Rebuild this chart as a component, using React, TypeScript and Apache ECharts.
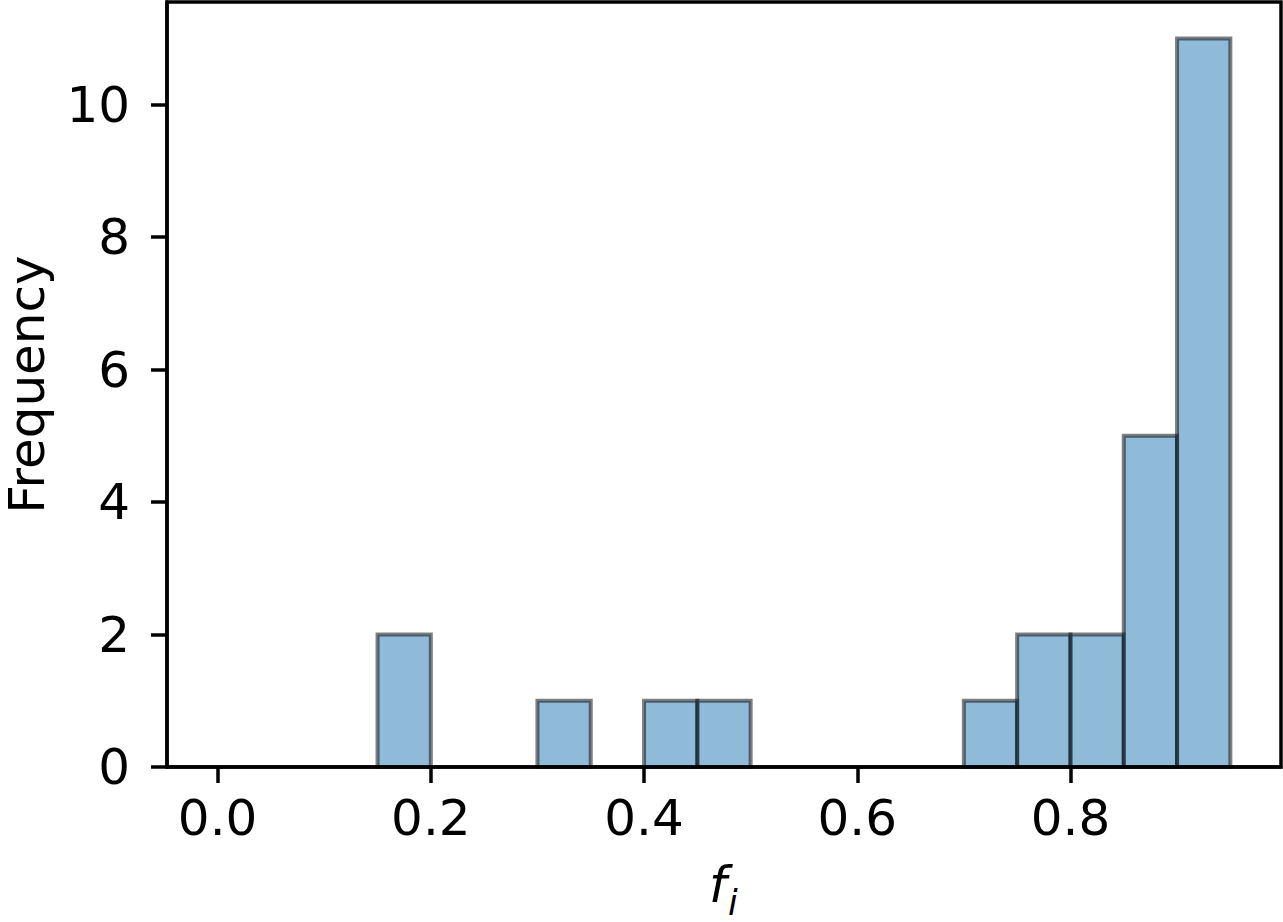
import React, { useEffect, useRef } from "react";
import * as echarts from "echarts";

const binStarts = [0.15, 0.3, 0.4, 0.45, 0.7, 0.75, 0.8, 0.85, 0.9];
const binWidth = 0.05;
const counts = [2, 1, 1, 1, 1, 2, 2, 5, 11];
const xTicks = [0.0, 0.2, 0.4, 0.6, 0.8];
const yTicks = [0, 2, 4, 6, 8, 10];
const xLabelMain = "f";
const xLabelSub = "i";
const yLabel = "Frequency";

const FONT = "DejaVu Sans";

export default function App() {
  const ref = useRef<HTMLDivElement>(null);
  useEffect(() => {
    if (!ref.current) return;
    const chart = echarts.init(ref.current, undefined, { renderer: "svg" });
    const data = binStarts.map((s, i) => [s, s + binWidth, counts[i]]);
    chart.setOption({
      animation: false,
      backgroundColor: "#ffffff",
      grid: {
        left: 167,
        right: 2,
        top: 2,
        bottom: 155,
        containLabel: false,
        outerBoundsMode: "none",
        show: true,
        borderColor: "#000",
        borderWidth: 3.5,
        backgroundColor: "transparent",
        z: 10,
      },
      xAxis: {
        type: "value",
        min: -0.0475,
        max: 0.9975,
        splitLine: { show: false },
        axisLine: { show: true, onZero: false, lineStyle: { color: "#000", width: 3.5 } },
        axisTick: {
          show: true,
          length: 16,
          customValues: xTicks,
          lineStyle: { color: "#000", width: 3.5 },
        },
        axisLabel: {
          customValues: xTicks,
          formatter: (v: number) => v.toFixed(1),
          fontFamily: FONT,
          fontSize: 50,
          color: "#000",
          margin: 26,
        },
      },
      yAxis: {
        type: "value",
        min: 0,
        max: 11.55,
        name: yLabel,
        nameLocation: "middle",
        nameGap: 115,
        nameTextStyle: { fontFamily: FONT, fontSize: 50, color: "#000", lineHeight: 50 },
        splitLine: { show: false },
        axisLine: { show: true, onZero: false, lineStyle: { color: "#000", width: 3.5 } },
        axisTick: {
          show: true,
          length: 16,
          customValues: yTicks,
          lineStyle: { color: "#000", width: 3.5 },
        },
        axisLabel: {
          customValues: yTicks,
          fontFamily: FONT,
          fontSize: 50,
          color: "#000",
          margin: 37,
        },
      },
      graphic: [
        {
          type: "text",
          left: 709,
          top: 860,
          style: {
            text: xLabelMain,
            font: `italic 50px "${FONT}"`,
            fill: "#000",
          },
        },
        {
          type: "text",
          left: 728,
          top: 885,
          style: {
            text: xLabelSub,
            font: `italic 35px "${FONT}"`,
            fill: "#000",
          },
        },
      ],
      series: [
        {
          type: "custom",
          data,
          renderItem: (params: any, api: any) => {
            const x0 = api.value(0);
            const x1 = api.value(1);
            const c = api.value(2);
            const p0 = api.coord([x0, c]);
            const p1 = api.coord([x1, 0]);
            return {
              type: "rect",
              shape: { x: p0[0], y: p0[1], width: p1[0] - p0[0], height: p1[1] - p0[1] },
              style: {
                fill: "rgba(31,119,180,0.5)",
                stroke: "rgba(0,0,0,0.5)",
                lineWidth: 4,
              },
            };
          },
        },
      ],
    });
    return () => chart.dispose();
  }, []);
  return (
    <div
      ref={ref}
      style={{ position: "fixed", left: 0, top: 0, width: 1283, height: 922 }}
    />
  );
}
